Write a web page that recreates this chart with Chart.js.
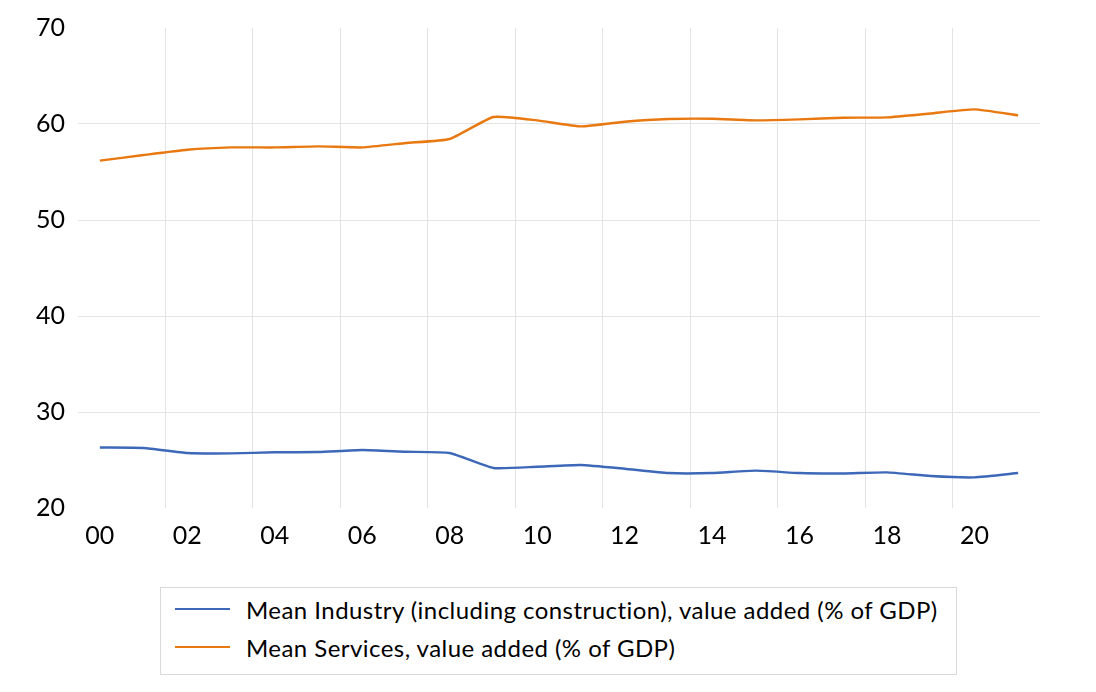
<!DOCTYPE html>
<html>
<head>
<meta charset="utf-8">
<script src="https://cdn.jsdelivr.net/npm/chart.js@4"></script>
<style>
  html, body { margin: 0; padding: 0; background: #fff; }
  #wrap { position: relative; width: 1096px; height: 692px; }
  #chartBox { position: absolute; left: 0; top: 0; width: 1096px; height: 560px; }
  #legend { position: absolute; left: 160px; top: 587px; width: 797px; height: 88px;
            border: 1px solid #d9d9d9; box-sizing: border-box; font-family: Lato, sans-serif;
            font-size: 24px; letter-spacing: 0.45px; color: #000; padding-top: 2px; }
  .item { display: flex; align-items: center; height: 38px; padding-left: 14px; }
  .swatch { width: 55px; height: 2px; margin-right: 16px; flex: none; }
</style>
</head>
<body>
<div id="wrap">
  <div id="chartBox"><canvas id="c"></canvas></div>
  <div id="legend"></div>
</div>
<script>
const years = [2000,2001,2002,2003,2004,2005,2006,2007,2008,2009,2010,2011,2012,2013,2014,2015,2016,2017,2018,2019,2020,2021];
const industry = [26.3,26.25,25.73,25.69,25.8,25.83,26.04,25.86,25.73,24.17,24.3,24.48,24.09,23.64,23.64,23.89,23.64,23.6,23.71,23.33,23.19,23.64];
const services = [56.18,56.77,57.32,57.56,57.56,57.67,57.56,58.02,58.44,60.73,60.38,59.75,60.24,60.52,60.55,60.38,60.48,60.65,60.69,61.1,61.52,60.9];
const seriesNames = ["Mean Industry (including construction), value added (% of GDP)", "Mean Services, value added (% of GDP)"];
const seriesColors = ["#3d68b8", "#e8780f"];
const xLabelYears = [2000,2002,2004,2006,2008,2010,2012,2014,2016,2018,2020];
const xGridYears = [2001.5,2003.5,2005.5,2007.5,2009.5,2011.5,2013.5,2015.5,2017.5,2019.5];
const yTicks = [20,30,40,50,60,70];

const toPts = arr => arr.map((v, i) => ({x: years[i], y: v}));
const seriesData = [industry, services];

const datasets = seriesData.map((d, i) => ({
  label: seriesNames[i],
  data: toPts(d),
  borderColor: seriesColors[i],
  backgroundColor: seriesColors[i],
  borderWidth: 2.4,
  pointRadius: 0,
  tension: 0.15
}));

new Chart(document.getElementById('c'), {
  type: 'line',
  data: { datasets },
  options: {
    responsive: true,
    maintainAspectRatio: false,
    animation: false,
    layout: { padding: { top: 28, right: 56, left: 0, bottom: 0 } },
    plugins: { legend: { display: false }, tooltip: { enabled: false } },
    scales: {
      x: {
        type: 'linear',
        min: 1999.5, max: 2021.5,
        afterBuildTicks: s => {
          const all = xLabelYears.concat(xGridYears).sort((a, b) => a - b);
          s.ticks = all.map(v => ({ value: v }));
        },
        afterFit: s => { s.height = 52; },
        ticks: {
          autoSkip: false, maxRotation: 0, minRotation: 0, padding: 13,
          color: '#000', font: { family: 'Lato', size: 25 },
          callback: v => xLabelYears.includes(v) ? String(v % 100).padStart(2, '0') : ''
        },
        grid: {
          drawTicks: false,
          color: ctx => (ctx.tick && xGridYears.includes(ctx.tick.value)) ? '#e3e3e3' : 'rgba(0,0,0,0)',
          lineWidth: 1
        },
        border: { display: false }
      },
      y: {
        min: 20, max: 70,
        afterBuildTicks: s => { s.ticks = yTicks.map(v => ({ value: v })); },
        afterFit: s => { s.width = 78; },
        ticks: { padding: 13, color: '#000', font: { family: 'Lato', size: 25 } },
        grid: {
          drawTicks: false,
          color: ctx => (ctx.tick && (ctx.tick.value === 20 || ctx.tick.value === 70)) ? 'rgba(0,0,0,0)' : '#e3e3e3',
          lineWidth: 1
        },
        border: { display: false }
      }
    }
  }
});

const leg = document.getElementById('legend');
seriesNames.forEach((n, i) => {
  const it = document.createElement('div');
  it.className = 'item';
  const sw = document.createElement('span');
  sw.className = 'swatch';
  sw.style.background = seriesColors[i];
  const tx = document.createElement('span');
  tx.textContent = n;
  it.appendChild(sw); it.appendChild(tx);
  leg.appendChild(it);
});
</script>
</body>
</html>
